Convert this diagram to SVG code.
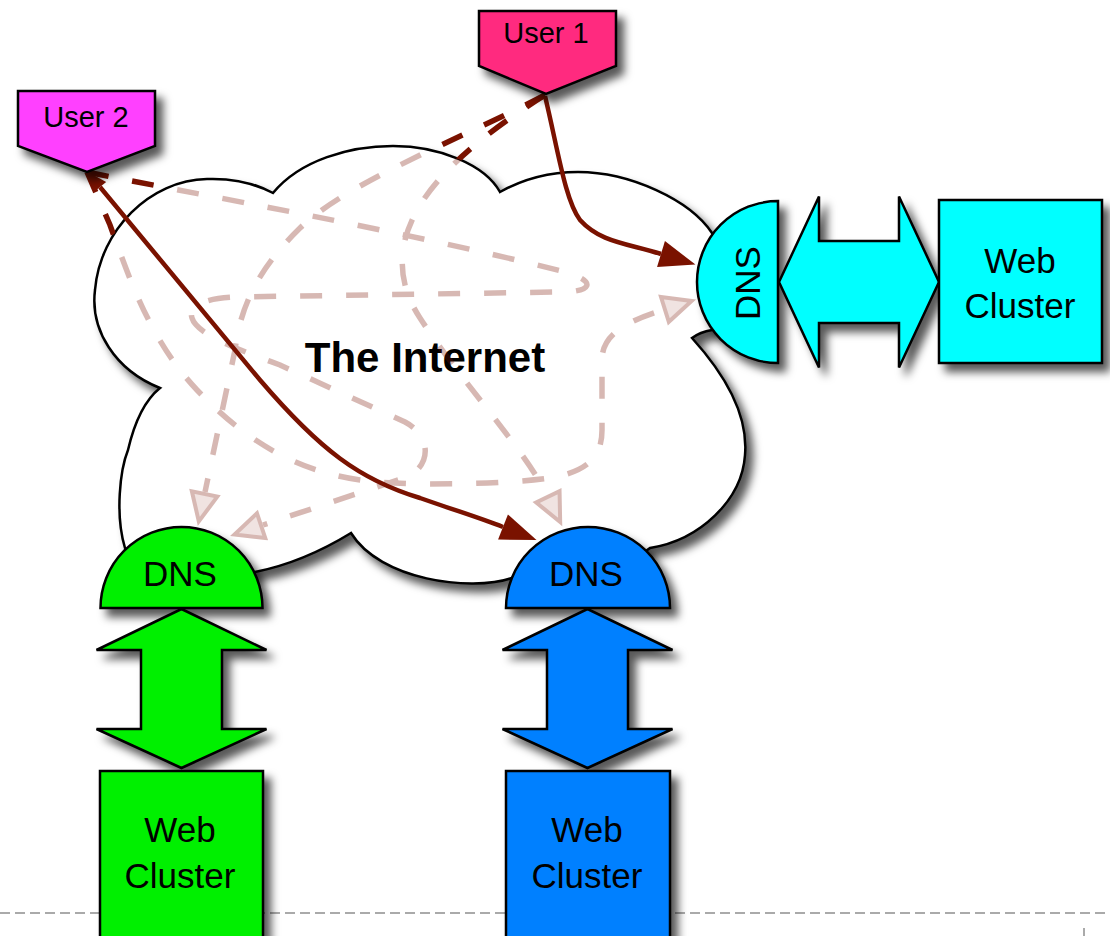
<svg xmlns="http://www.w3.org/2000/svg" xmlns:xlink="http://www.w3.org/1999/xlink" width="1110" height="936" viewBox="0 0 1110 936">
<style>
.nd{stroke:#000;stroke-width:2.5;stroke-linejoin:miter;filter:url(#sh)}
.lbl{font-family:"Liberation Sans",Arial,Helvetica,sans-serif;fill:#000;text-anchor:middle}
.n35{font-size:35px}
.u29{font-size:29px}
.solid{fill:none;stroke:#7a1200;stroke-width:4.5}
.dash{fill:none;stroke:#7a1200;stroke-width:5.5;stroke-dasharray:22 24}
</style>
<defs>
<filter id="sh" x="-20%" y="-20%" width="150%" height="150%">
<feDropShadow dx="7" dy="8" stdDeviation="4" flood-color="#000" flood-opacity="0.65"/>
</filter>
<path id="cloudShape" d="M160,388 C115,370 90,330 95,290 C100,230 150,180 207,179 C235,178 258,185 273,193 C300,160 350,146 393,146 C440,146 485,165 500,192 C525,178 550,172 578,172 C630,172 690,200 712,233 C770,265 750,325 712,330 Q700,332 692,338 C730,380 748,420 745,455 C742,500 700,540 650,548 C620,572 550,580 512,578 C470,592 380,580 351,533 C320,552 290,565 255,572 C200,585 145,570 125,548 C115,515 120,470 128,450 C135,420 145,400 160,388 Z"/>
<mask id="fade" maskUnits="userSpaceOnUse" x="0" y="0" width="1110" height="936">
<rect width="1110" height="936" fill="#fff"/>
<use xlink:href="#cloudShape" fill="#000" fill-opacity="0.7"/>
</mask>
<marker id="ah" markerUnits="userSpaceOnUse" markerWidth="40" markerHeight="30" refX="0" refY="13.5" orient="auto" overflow="visible">
<path d="M0,0 L36,13.5 L0,27 Z" fill="#7a1200"/>
</marker>
<marker id="ahs" markerUnits="userSpaceOnUse" markerWidth="24" markerHeight="18" refX="0" refY="8" orient="auto-start-reverse" overflow="visible">
<path d="M0,0 L20,8 L0,16 Z" fill="#7a1200"/>
</marker>
<marker id="oh" markerUnits="userSpaceOnUse" markerWidth="36" markerHeight="32" refX="0" refY="13" orient="auto" overflow="visible">
<path d="M2,0 L30,13 L2,26 Z" fill="#7a1200" fill-opacity="0.4" stroke="#7a1200" stroke-width="4"/>
</marker>
</defs>

<rect width="1110" height="936" fill="#fff"/>

<g id="page-border">
<line x1="0" y1="913" x2="1110" y2="913" stroke="#aaa" stroke-width="2" stroke-dasharray="10 5"/>
<line x1="1084" y1="928" x2="1084" y2="936" stroke="#aaa" stroke-width="2"/>
</g>

<g id="internet">
<use xlink:href="#cloudShape" fill="#fff" stroke="#000" stroke-width="2.5" filter="url(#sh)"/>
<text class="lbl" x="425" y="372" font-size="42" font-weight="bold">The Internet</text>
</g>

<g id="connectors">
<g id="alternative-routes" mask="url(#fade)">
<path class="dash" d="M545,95 C470,135 350,180 300,228 C255,272 240,310 235,350 L205,492" marker-end="url(#oh)"/>
<path class="dash" d="M545,95 C490,130 420,180 405,240 C398,270 405,295 420,318 C460,380 525,450 547,495" marker-end="url(#oh)"/>
<path class="dash" d="M87,172 L110,225 C130,280 150,340 197,390 C240,435 290,470 360,480 C400,486 500,485 550,478 C590,471 602,455 602,430 L602,360 C602,335 625,322 663,310" marker-end="url(#oh)"/>
<path class="dash" d="M87,172 C200,195 400,230 565,272 C595,280 595,292 560,292 L235,297 C205,298 188,306 192,318 C197,335 240,350 280,365 L405,422 C430,435 432,462 410,476 L263,525" marker-end="url(#oh)"/>
</g>
<path class="solid" d="M545,96 C558,150 565,200 580,220 C600,242 625,243 661,254" marker-end="url(#ah)"/>
<path class="solid" d="M100,187 L260,380 C320,450 360,480 420,498 C460,512 480,518 503,527" marker-start="url(#ahs)" marker-end="url(#ah)"/>
</g>

<g id="user1">
<path class="nd" d="M479,11 H616 V66 L546,94 L479,66 Z" fill="#ff2a7f"/>
<text class="lbl u29" x="546" y="43">User 1</text>
</g>

<g id="user2">
<path class="nd" d="M18,91 H155 V146 L87,172 L18,146 Z" fill="#ff40ff"/>
<text class="lbl u29" x="86" y="127">User 2</text>
</g>

<g id="dns-cyan">
<path class="nd" d="M778,201 A81,81 0 0 0 778,363 Z" fill="#00ffff"/>
<text class="lbl n35" transform="translate(760,283) rotate(-90)">DNS</text>
</g>
<g id="link-cyan">
<path class="nd" d="M779,282 L819,196.5 L819,241 L899,241 L899,196.5 L939,282 L899,367.5 L899,323 L819,323 L819,367.5 Z" fill="#00ffff"/>
</g>
<g id="cluster-cyan">
<rect class="nd" x="939" y="200" width="163" height="163" fill="#00ffff"/>
<text class="lbl n35" x="1020" y="273">Web</text>
<text class="lbl n35" x="1020" y="318">Cluster</text>
</g>

<g id="dns-green">
<path class="nd" d="M100.5,608 A81,81 0 0 1 262.5,608 Z" fill="#00f000"/>
<text class="lbl n35" x="180" y="586">DNS</text>
</g>
<g id="link-green">
<path class="nd" d="M181.5,609 L266.5,650 L222,650 L222,729 L266.5,729 L181.5,768 L96.5,729 L141,729 L141,650 L96.5,650 Z" fill="#00f000"/>
</g>
<g id="cluster-green">
<rect class="nd" x="100" y="771" width="163" height="180" fill="#00f000"/>
<text class="lbl n35" x="180" y="842">Web</text>
<text class="lbl n35" x="180" y="888">Cluster</text>
</g>

<g id="dns-blue">
<path class="nd" d="M506,608 A82,81 0 0 1 670,608 Z" fill="#0080ff"/>
<text class="lbl n35" x="586" y="586">DNS</text>
</g>
<g id="link-blue">
<path class="nd" d="M587.5,609 L672.5,650 L628,650 L628,729 L672.5,729 L587.5,768 L502.5,729 L547,729 L547,650 L502.5,650 Z" fill="#0080ff"/>
</g>
<g id="cluster-blue">
<rect class="nd" x="506" y="771" width="164" height="180" fill="#0080ff"/>
<text class="lbl n35" x="587" y="842">Web</text>
<text class="lbl n35" x="587" y="888">Cluster</text>
</g>
</svg>
